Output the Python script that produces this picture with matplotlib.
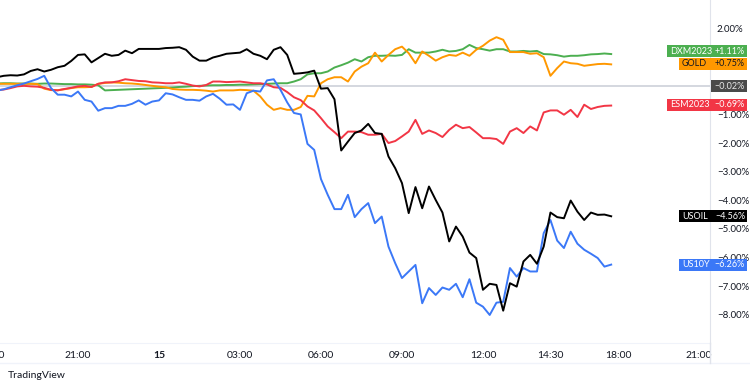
import matplotlib.pyplot as plt
from matplotlib.patches import Rectangle
from matplotlib.lines import Line2D
from matplotlib.transforms import blended_transform_factory
import numpy as np

plt.rcParams['font.family'] = ['Lato', 'DejaVu Sans']

# 15-minute bars, hours counted from 18:00 on the 14th (17:00-18:00 break left out)
hours = np.arange(92) * 0.25

usoil = [0.30, 0.35, 0.37, 0.36, 0.40, 0.52, 0.58, 0.50, 0.56, 0.65,
         0.70, 0.87, 1.08, 1.10, 0.82, 0.97, 1.12, 1.05, 1.08, 1.23,
         1.14, 1.29, 1.29, 1.29, 1.29, 1.32, 1.33, 1.35, 1.26, 1.02,
         0.88, 0.88, 0.99, 1.05, 1.12, 1.14, 1.16, 1.28, 1.12, 1.05,
         0.93, 1.26, 1.35, 1.08, 0.42, 0.44, 0.47, 0.53, -0.10, -0.08,
         -0.47, -2.26, -1.95, -1.65, -1.56, -1.33, -1.65, -1.68, -2.47, -2.88,
         -3.40, -4.45, -3.54, -4.28, -3.52, -3.99, -4.43, -5.44, -4.92, -5.27,
         -5.83, -6.02, -7.13, -6.92, -6.96, -7.86, -6.90, -7.02, -6.14, -5.91,
         -6.22, -5.62, -4.43, -4.59, -4.63, -4.01, -4.40, -4.69, -4.43, -4.51,
         -4.50, -4.56]

us10y = [-0.17, -0.12, -0.05, 0.02, 0.08, 0.16, 0.24, 0.35, -0.08, -0.31,
         -0.31, -0.37, -0.20, -0.49, -0.55, -0.87, -0.78, -0.78, -0.70, -0.70,
         -0.63, -0.51, -0.66, -0.55, -0.51, -0.26, -0.30, -0.40, -0.49, -0.49,
         -0.52, -0.37, -0.28, -0.45, -0.66, -0.65, -0.84, -0.26, -0.17, -0.20,
         0.19, 0.23, -0.14, -0.58, -0.95, -1.00, -2.03, -2.24, -3.26, -3.81,
         -4.31, -4.31, -3.81, -4.59, -4.31, -4.10, -4.80, -4.57, -5.62, -6.20,
         -6.72, -6.49, -6.26, -7.60, -7.07, -7.31, -7.05, -7.13, -6.92, -7.39,
         -6.76, -7.58, -7.72, -8.01, -7.58, -7.55, -6.37, -6.67, -6.37, -6.49,
         -6.49, -5.15, -4.69, -5.41, -5.67, -5.10, -5.52, -5.73, -5.87, -6.02,
         -6.32, -6.25]

dxm2023 = [0.08, 0.09, 0.09, 0.08, 0.08, 0.08, 0.07, 0.08, 0.08, 0.07,
           0.06, 0.06, 0.05, 0.05, 0.04, 0.02, -0.16, -0.15, -0.14, -0.13,
           -0.12, -0.11, -0.10, -0.09, -0.08, -0.07, -0.06, -0.04, -0.03, -0.01,
           0.00, 0.01, 0.02, 0.02, 0.03, 0.03, 0.04, 0.04, 0.05, 0.06,
           0.07, 0.08, 0.09, 0.09, 0.15, 0.23, 0.40, 0.44, 0.44, 0.50,
           0.64, 0.72, 0.81, 0.93, 0.85, 1.00, 1.05, 1.05, 1.06, 1.05,
           1.08, 1.28, 1.16, 1.16, 1.16, 1.20, 1.26, 1.20, 1.22, 1.28,
           1.43, 1.32, 1.28, 1.23, 1.28, 1.28, 1.20, 1.20, 1.22, 1.20,
           1.22, 1.11, 1.10, 1.07, 1.02, 1.05, 1.05, 1.07, 1.10, 1.11,
           1.13, 1.11]

esm2023 = [-0.15, -0.13, -0.08, -0.02, 0.00, -0.02, -0.03, -0.07, -0.14, -0.16,
           -0.11, -0.07, -0.02, 0.00, -0.04, 0.07, 0.12, 0.12, 0.16, 0.23,
           0.20, 0.17, 0.16, 0.12, 0.11, 0.09, 0.09, 0.12, 0.07, 0.01,
           -0.02, 0.03, 0.15, 0.15, 0.13, 0.14, 0.15, 0.12, 0.09, 0.09,
           0.05, -0.05, -0.07, -0.22, -0.40, -0.50, -0.72, -0.86, -1.13, -1.42,
           -1.62, -1.83, -1.60, -1.60, -1.62, -1.71, -1.71, -1.68, -2.00, -1.93,
           -1.77, -1.60, -1.19, -1.68, -1.56, -1.65, -1.79, -1.54, -1.36, -1.48,
           -1.44, -1.63, -1.83, -1.83, -1.86, -2.03, -1.60, -1.48, -1.65, -1.42,
           -1.56, -0.93, -0.86, -0.86, -1.01, -0.84, -1.09, -0.66, -0.81, -0.74,
           -0.70, -0.69]

gold = [0.07, 0.07, 0.07, 0.07, 0.07, 0.07, 0.06, -0.10, -0.15, -0.15,
        -0.12, -0.08, -0.05, -0.05, -0.04, 0.07, 0.10, 0.12, 0.11, 0.09,
        0.08, 0.06, 0.03, 0.00, -0.03, -0.05, -0.11, -0.13, -0.14, -0.14,
        -0.15, -0.17, -0.20, -0.16, -0.16, -0.16, -0.14, -0.15, -0.17, -0.37,
        -0.66, -0.84, -0.78, -0.84, -0.84, -0.74, -0.35, -0.37, 0.09, 0.23,
        0.30, 0.30, 0.15, 0.50, 0.67, 0.79, 1.16, 0.85, 1.08, 1.28,
        1.37, 1.14, 0.79, 1.20, 1.05, 0.88, 1.00, 1.08, 1.05, 1.16,
        1.05, 1.26, 1.40, 1.58, 1.70, 1.61, 1.18, 1.18, 1.18, 1.12,
        1.14, 1.00, 0.35, 0.62, 0.85, 0.79, 0.77, 0.70, 0.73, 0.76,
        0.77, 0.75]

tick_hours = [3, 6, 9, 12, 15, 18, 20.5, 23, 26]
tick_labels = ['21:00', '15', '03:00', '06:00', '09:00', '12:00', '14:30', '18:00', '21:00']
# 1.00% and 0.00% sit fully behind the value tags
y_ticks = [-8, -7, -6, -5, -4, -3, -2, -1, 2]

# (name, value text, label centre, box colour, text colour)
tags = [('DXM2023', '+1.11%', 1.21, '#4caf50', 'white'),
        ('GOLD', '+0.75%', 0.78, '#ff9800', '#131722'),
        ('', '\u22120.02%', -0.02, '#4a4a4a', '#e8e8e8'),
        ('ESM2023', '\u22120.69%', -0.66, '#f23645', 'white'),
        ('USOIL', '\u22124.56%', -4.56, '#000000', 'white'),
        ('US10Y', '\u22126.26%', -6.26, '#3b78f7', 'white')]

W, H = 750, 390
fig = plt.figure(figsize=(7.5, 3.9), dpi=100)
ax = fig.add_axes([0, 1 - 343 / H, 710 / W, 343 / H])

ax.axhline(0, color='#d1d4dc', lw=1.3, zorder=1)
ax.plot(hours, dxm2023, color='#4caf50', lw=1.4, zorder=2)
ax.plot(hours, gold, color='#ff9800', lw=1.4, zorder=2)
ax.plot(hours, esm2023, color='#f23645', lw=1.4, zorder=2)
ax.plot(hours, us10y, color='#3b78f7', lw=1.4, zorder=2)
ax.plot(hours, usoil, color='#000000', lw=1.4, zorder=2)

ax.set_xlim(0.111, 26.41)
ax.set_ylim(-8.99, 3.0)

ax.set_xticks(tick_hours)
ax.set_xticklabels(tick_labels)
ax.get_xticklabels()[1].set_fontweight('bold')
ax.yaxis.tick_right()
ax.set_yticks(y_ticks)
ax.set_yticklabels([f'{v:.2f}%'.replace('-', '\u2212') for v in y_ticks])
ax.tick_params(axis='x', length=0, pad=6, labelsize=7.5, labelcolor='#131722')
ax.tick_params(axis='y', length=0, pad=5, labelsize=7, labelcolor='#131722')

for side in ['top', 'left']:
    ax.spines[side].set_visible(False)
ax.spines['right'].set_color('#e0e3eb')
ax.spines['bottom'].set_color('#f0f3fa')
fig.add_artist(Line2D([0, 1], [1 - 363 / H] * 2, color='#f0f3fa', lw=1))
fig.add_artist(Line2D([710 / W] * 2, [1 - 363 / H, 1 - 343 / H], color='#e0e3eb', lw=1))

# partly hidden first label
ax.text(-0.2, -0.035, '18:00', transform=ax.get_xaxis_transform(), ha='center',
        va='center', fontsize=7.5, color='#131722', clip_on=False)

trans = blended_transform_factory(ax.transAxes, ax.transData)
right_edge = 747 / 710
box_h = 0.42
for name, val, yc, bg, fg in tags:
    if name == '':
        x0 = 711 / 710
    elif name in ('DXM2023', 'ESM2023'):
        x0 = 667 / 710
    else:
        x0 = 679 / 710
    ax.add_patch(Rectangle((x0, yc - box_h / 2), right_edge - x0, box_h, transform=trans,
                           facecolor=bg, edgecolor='none', clip_on=False, zorder=5))
    if name:
        ax.text(x0 + 3 / 710, yc, name, transform=trans, ha='left', va='center',
                fontsize=6.5, color=fg, clip_on=False, zorder=6)
    ax.text(745 / 710, yc, val, transform=trans, ha='right', va='center',
            fontsize=6.5, color=fg, clip_on=False, zorder=6)

fig.text(8 / W, 1 - 376 / H, 'TradingView', fontsize=7.5, color='#131722', va='center')

fig.savefig('out.png', dpi=100)
